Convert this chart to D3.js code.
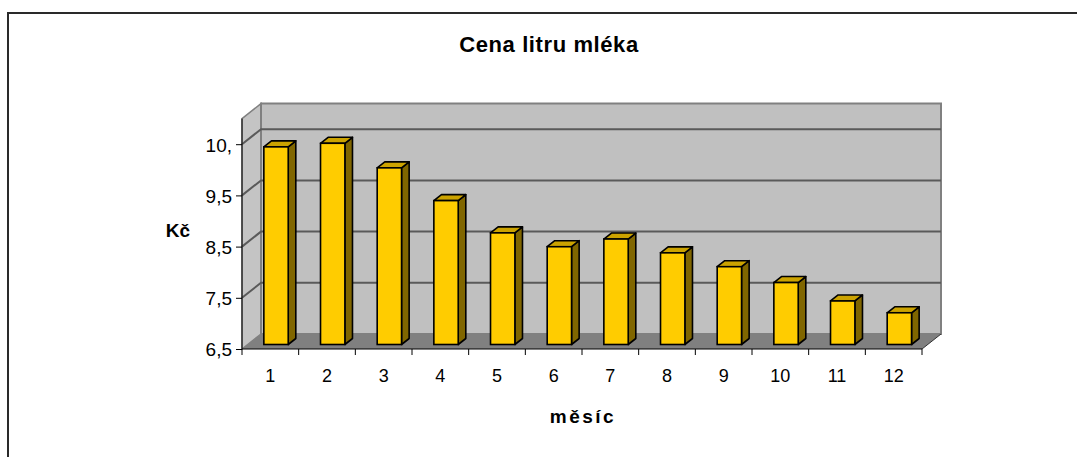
<!DOCTYPE html>
<html>
<head>
<meta charset="utf-8">
<script src="https://cdn.jsdelivr.net/npm/d3@7"></script>
<style>
  html, body { margin: 0; padding: 0; background: #fff; }
  svg { display: block; font-family: "Liberation Sans", Arial, sans-serif; }
</style>
</head>
<body>
<svg id="chart" width="1077" height="457"></svg>
<script>
// Monthly price of a litre of milk (Kč)
const months = ["1", "2", "3", "4", "5", "6", "7", "8", "9", "10", "11", "12"];
const prices = [10.36, 10.43, 9.95, 9.31, 8.68, 8.41, 8.56, 8.29, 8.02, 7.71, 7.35, 7.12];
const tickValues = [6.5, 7.5, 8.5, 9.5, 10.5];
const tickLabels = ["6,5", "7,5", "8,5", "9,5", "10,"];
const titleText = "Cena litru mléka";
const yTitle = "Kč";
const xTitle = "měsíc";

const svg = d3.select("#chart");

// front plane of the plot and the 3D depth offset
const plotLeft = 242, plotRight = 922, plotBottom = 349, plotTop = 118.6;
const DX = 19, DY = -15;

const x = d3.scaleBand().domain(months).range([plotLeft, plotRight]).padding(0);
const y = d3.scaleLinear().domain([6.5, 11]).range([plotBottom, plotTop]);

// outer chart frame (top and left edges)
svg.append("path")
  .attr("d", "M8,457 L8,13 L1077,13")
  .attr("fill", "none").attr("stroke", "#2a2a2a").attr("stroke-width", 2);

// title
svg.append("text")
  .attr("x", 549).attr("y", 52)
  .attr("text-anchor", "middle")
  .attr("font-size", 22).attr("font-weight", "bold")
  .attr("letter-spacing", 0.6)
  .text(titleText);

const pt = (px, py) => px + "," + py;

// left side wall
svg.append("polygon")
  .attr("points", [pt(plotLeft, y(11)), pt(plotLeft + DX, y(11) + DY), pt(plotLeft + DX, plotBottom + DY), pt(plotLeft, plotBottom)].join(" "))
  .attr("fill", "#c4c4c4").attr("stroke", "#808080").attr("stroke-width", 1.5);

// back wall
svg.append("polygon")
  .attr("points", [pt(plotLeft + DX, y(11) + DY), pt(plotRight + DX, y(11) + DY), pt(plotRight + DX, plotBottom + DY), pt(plotLeft + DX, plotBottom + DY)].join(" "))
  .attr("fill", "#c0c0c0").attr("stroke", "#808080").attr("stroke-width", 2);

// floor
svg.append("polygon")
  .attr("points", [pt(plotLeft, plotBottom), pt(plotRight, plotBottom), pt(plotRight + DX, plotBottom + DY), pt(plotLeft + DX, plotBottom + DY)].join(" "))
  .attr("fill", "#808080");

// gridlines: diagonal on the side wall, horizontal on the back wall
const grid = tickValues.filter(v => v > 6.5);
svg.append("g").selectAll("path").data(grid).join("path")
  .attr("d", v => `M${plotLeft},${y(v)} L${plotLeft + DX},${y(v) + DY} L${plotRight + DX},${y(v) + DY}`)
  .attr("fill", "none").attr("stroke", "#5a5a5a").attr("stroke-width", 2);

// floor's right edge
svg.append("line")
  .attr("x1", plotRight).attr("y1", plotBottom).attr("x2", plotRight + DX).attr("y2", plotBottom + DY)
  .attr("stroke", "#333").attr("stroke-width", 1);

// bars as 3D columns
const fFront = 0.3, fBack = 0.7;
const bw = x.bandwidth() * 0.43;
const bars = svg.append("g").selectAll("g").data(months.map((m, i) => ({ m, v: prices[i] }))).join("g");
const bx0 = d => x(d.m) + (x.bandwidth() - bw) / 2 + fFront * DX;
const oy = fFront * DY;
const ddx = (fBack - fFront) * DX, ddy = (fBack - fFront) * DY;

bars.append("polygon") // side
  .attr("points", d => {
    const x1 = bx0(d) + bw, yt = y(d.v) + oy, yb = plotBottom + oy;
    return [pt(x1, yt), pt(x1 + ddx, yt + ddy), pt(x1 + ddx, yb + ddy), pt(x1, yb)].join(" ");
  })
  .attr("fill", "#806600").attr("stroke", "#000").attr("stroke-width", 1.6).attr("stroke-linejoin", "round");
bars.append("polygon") // top
  .attr("points", d => {
    const x0 = bx0(d), yt = y(d.v) + oy;
    return [pt(x0, yt), pt(x0 + ddx, yt + ddy), pt(x0 + bw + ddx, yt + ddy), pt(x0 + bw, yt)].join(" ");
  })
  .attr("fill", "#ccA300").attr("stroke", "#000").attr("stroke-width", 1.6).attr("stroke-linejoin", "round");
bars.append("rect") // front
  .attr("x", d => bx0(d))
  .attr("y", d => y(d.v) + oy)
  .attr("width", bw)
  .attr("height", d => plotBottom - y(d.v))
  .attr("fill", "#ffcc00").attr("stroke", "#000").attr("stroke-width", 1.6);

// value axis
const yAxis = d3.axisLeft(y).tickValues(tickValues).tickSize(6).tickPadding(4)
  .tickFormat((d, i) => tickLabels[i]);
const ya = svg.append("g").attr("transform", `translate(${plotLeft},0)`).call(yAxis);
ya.select(".domain").attr("d", `M0,${y(11)}V${plotBottom}`).attr("stroke", "#000");
ya.selectAll(".tick line").attr("stroke", "#000");
ya.selectAll(".tick text").attr("font-size", 19).attr("fill", "#000")
  .attr("font-family", "Liberation Sans, Arial, sans-serif").attr("dy", "0.36em");

// category axis
const xAxis = d3.axisBottom(x).tickSize(0).tickPadding(20);
const xa = svg.append("g").attr("transform", `translate(0,${plotBottom})`).call(xAxis);
xa.select(".domain").attr("d", `M${plotLeft},0H${plotRight}`).attr("stroke", "#000");
xa.selectAll(".tick text").attr("font-size", 18).attr("fill", "#000")
  .attr("font-family", "Liberation Sans, Arial, sans-serif");
// tick marks at category boundaries
xa.append("g").selectAll("line").data(months.map(m => x(m)).concat([plotRight])).join("line")
  .attr("x1", d => d).attr("x2", d => d).attr("y1", 0).attr("y2", 6)
  .attr("stroke", "#000");

// axis titles
svg.append("text")
  .attr("x", 178).attr("y", 237).attr("text-anchor", "middle")
  .attr("font-size", 19).attr("font-weight", "bold").text(yTitle);
svg.append("text")
  .attr("x", 583).attr("y", 423).attr("text-anchor", "middle")
  .attr("font-size", 19).attr("font-weight", "bold").attr("letter-spacing", 2.5)
  .text(xTitle);
</script>
</body>
</html>
